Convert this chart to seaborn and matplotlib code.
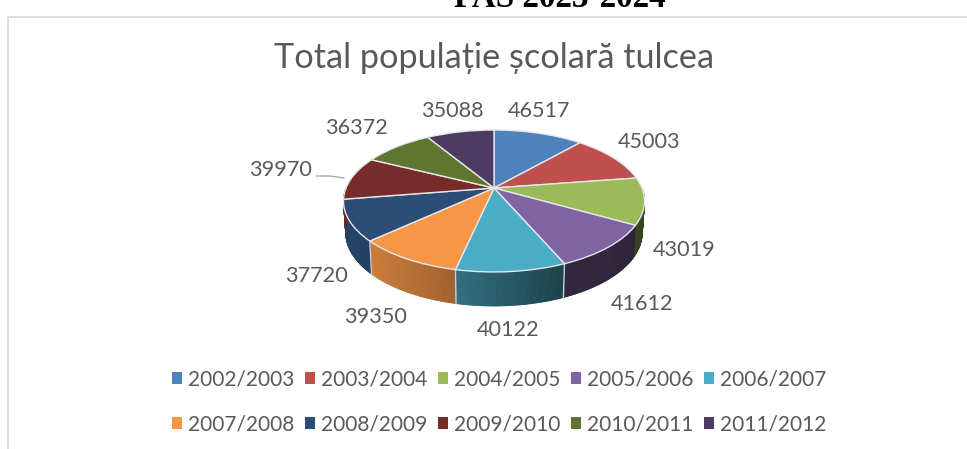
import numpy as np
import matplotlib
matplotlib.use("Agg")
import matplotlib.pyplot as plt
import seaborn as sns
from matplotlib.collections import PolyCollection
from matplotlib.patches import Patch
from matplotlib.transforms import Transform

# ---- data ----
years = ["2002/2003", "2003/2004", "2004/2005", "2005/2006", "2006/2007",
         "2007/2008", "2008/2009", "2009/2010", "2010/2011", "2011/2012"]
values = [46517, 45003, 43019, 41612, 40122, 39350, 37720, 39970, 36372, 35088]
title = "Total populație școlară tulcea"
clipped_heading = "PAS 2023-2024"

# ---- style ----
colors = ["#4F81BD", "#C0504D", "#9BBB59", "#8064A2", "#4BACC6",
          "#F79646", "#2C4D75", "#772C2A", "#5F7530", "#4D3B62"]
label_xy = [(539, 111), (649, 142), (684, 250), (642, 304), (508, 330),
            (376, 317), (316, 276), (281, 170), (357, 128), (452, 111)]
TXT = "#595959"
HUB = (494.0, 188.0)
K, A, B = 0.183, 148.0, 68.6

sns.set_theme(style="white")
plt.rcParams["font.family"] = ["Lato", "DejaVu Sans"]
palette = sns.color_palette(colors)


def project(u, v):
    w = 1 + K * v
    return HUB[0] + A * u / w, HUB[1] - B * v / w


class Tilt(Transform):
    """Perspective view of the unit-circle pie, in pixel-like data units."""
    input_dims = 2
    output_dims = 2
    is_separable = False
    has_inverse = False

    def transform_non_affine(self, values):
        values = np.asarray(values, float)
        x, y = project(values[:, 0], values[:, 1])
        return np.column_stack([x, y])


fig = plt.figure(figsize=(9.67, 4.49), dpi=100, facecolor="white")
ax = fig.add_axes([0, 0, 1, 1])

wedges, _ = ax.pie(values, colors=palette, startangle=90, counterclock=False,
                   wedgeprops=dict(edgecolor="#E4E7EC", linewidth=1.0))
tilt = Tilt() + ax.transData
for w in wedges:
    w.set_transform(tilt)
    w.set_zorder(3)

ax.set_aspect("auto")
ax.set_xlim(0, 967)
ax.set_ylim(449, 0)
ax.set_axis_off()


def rim(theta):
    """Top and bottom rim points of the pie side for angles in degrees."""
    t = np.radians(theta)
    u, v = np.cos(t), np.sin(t)
    x, y = project(u, v)
    depth = 31 + 3 * np.clip(-v, 0, 1)
    xb = HUB[0] + (x - HUB[0]) * 0.985
    return x, y, xb, y + depth


SHADE_X = [-150, -120, -40, 70, 150]
SHADE_F = [0.88, 0.82, 0.65, 0.38, 0.36]
for w, c in zip(wedges, palette):
    th = np.linspace(w.theta1, w.theta2, 60)
    x, y, xb, yb = rim(th)
    quads, cols = [], []
    for i in range(len(th) - 1):
        if np.sin(np.radians((th[i] + th[i + 1]) / 2)) >= 0:
            continue
        quads.append([(x[i], y[i]), (x[i + 1], y[i + 1]),
                      (xb[i + 1], yb[i + 1]), (xb[i], yb[i])])
        f = np.interp((x[i] + x[i + 1]) / 2 - HUB[0], SHADE_X, SHADE_F)
        cols.append(tuple(np.array(c) * f))
    if quads:
        ax.add_collection(PolyCollection(quads, facecolors=cols, edgecolors=cols,
                                         linewidths=0.6, zorder=1))
    # seam between two neighbouring side walls
    if np.sin(np.radians(w.theta2)) < -0.5:
        sx, sy, sbx, sby = rim(np.array([w.theta2]))
        ax.plot([sx[0], sbx[0]], [sy[0], sby[0]], color="#C9CED6", lw=1.0, zorder=2)

# data labels and the single leader line
for val, (lx, ly) in zip(values, label_xy):
    ax.text(lx, ly, str(val), ha="center", va="center", fontsize=15.6, color=TXT)
ax.plot([316, 330, 344], [176, 176, 178], color="#A6A6A6", lw=1.0, zorder=2)

# title and clipped heading above the chart frame
ax.text(494, 58, title, ha="center", va="center", fontsize=24.7, color=TXT)
ax.text(560, 7, clipped_heading, ha="center", va="baseline", fontsize=23.9,
        fontweight="bold", color="black", family="Liberation Serif")

# chart frame (top and left sides only are visible)
ax.plot([8, 8, 967], [449, 17, 17], color="#D9D9D9", lw=1.2, zorder=1)

# legend: two rows of five, filled row by row
handles = [Patch(facecolor=c, edgecolor="none", label=y) for c, y in zip(palette, years)]
order = [i for pair in zip(range(5), range(5, 10)) for i in pair]
leg = ax.legend([handles[i] for i in order], [years[i] for i in order], ncol=5,
                loc="center", bbox_to_anchor=(499.5 / 967, 1 - 402 / 449),
                frameon=False, fontsize=15.0, labelcolor=TXT,
                handlelength=0.46, handleheight=0.46, handletextpad=0.31,
                columnspacing=0.51, labelspacing=1.2, borderpad=0, borderaxespad=0)

fig.savefig("out.png", dpi=100, facecolor="white")
